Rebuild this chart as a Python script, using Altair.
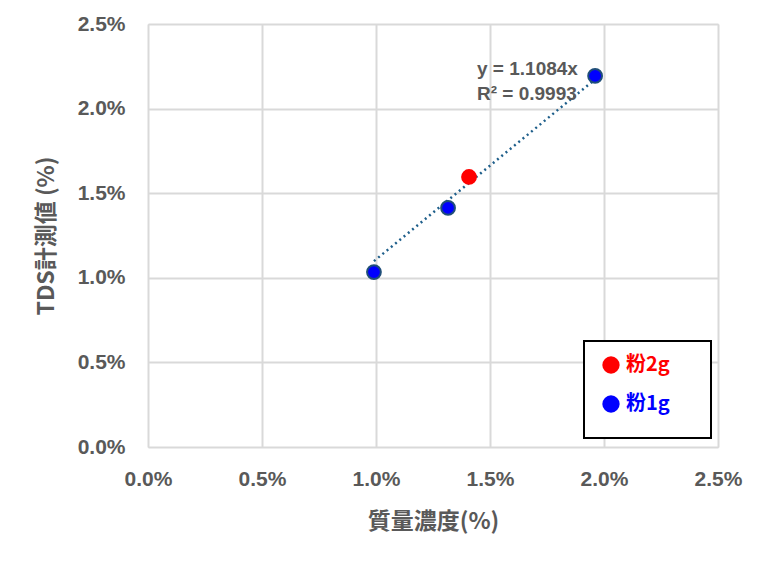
import altair as alt
import pandas as pd

# data (fractions)
blue_x = [0.00991, 0.01316, 0.01961]
blue_y = [0.01034, 0.01413, 0.02193]
red_x = [0.01408]
red_y = [0.01596]
series_names = ["粉2g", "粉1g"]
series_colors = ["#ff0000", "#0000ff"]
slope = 1.1084
eq_lines = ["y = 1.1084x", "R² = 0.9993"]

W, H = 570, 423
GREY = "#595959"
FONT = "Liberation Sans"
CJK = "Noto Sans CJK JP"

pts = pd.DataFrame({
    "x": red_x + blue_x,
    "y": red_y + blue_y,
    "s": [series_names[0]] * len(red_x) + [series_names[1]] * len(blue_x),
})
xmin, xmax = min(red_x + blue_x), max(red_x + blue_x)
trend = pd.DataFrame({"x": [xmin, xmax], "y": [slope * xmin, slope * xmax]})
eq = pd.DataFrame({"x": [0.01443, 0.01443], "y": [0.02234, 0.02086], "t": eq_lines})

xs = alt.Scale(domain=[0, 0.025], nice=False)
ys = alt.Scale(domain=[0, 0.025], nice=False)

xax = alt.Axis(format=".1%", values=[0, 0.005, 0.01, 0.015, 0.02, 0.025], title="質量濃度(%)",
               grid=True, gridColor="#d9d9d9", gridWidth=2, ticks=False, domain=False,
               labelFont=FONT, labelFontSize=21, labelFontWeight="bold", labelColor=GREY,
               labelPadding=21, titleFont=CJK, titleFontSize=23, titleFontWeight="bold",
               titleColor=GREY, titlePadding=21, labelFlush=False)
yax = alt.Axis(format=".1%", values=[0, 0.005, 0.01, 0.015, 0.02, 0.025], title="TDS計測値 (%)",
               grid=True, gridColor="#d9d9d9", gridWidth=2, ticks=False, domain=False,
               labelFont=FONT, labelFontSize=21, labelFontWeight="bold", labelColor=GREY,
               labelPadding=23, titleFont=CJK, titleFontSize=23, titleFontWeight="bold",
               titleColor=GREY, titlePadding=19, labelFlush=False)

base_pts = alt.Chart(pts).mark_point(filled=True, size=190, opacity=1).encode(
    x=alt.X("x:Q", scale=xs, axis=xax),
    y=alt.Y("y:Q", scale=ys, axis=yax),
    color=alt.Color("s:N", scale=alt.Scale(domain=series_names, range=series_colors), legend=None),
    stroke=alt.Stroke("s:N", scale=alt.Scale(domain=series_names, range=["#ff0000", "#1f4e79"]), legend=None),
)

line = alt.Chart(trend).mark_line(color="#1f5f8b", strokeWidth=2.5, strokeDash=[2, 3.5]).encode(
    x=alt.X("x:Q", scale=xs), y=alt.Y("y:Q", scale=ys))

eqt = alt.Chart(eq).mark_text(align="left", baseline="middle", font=FONT, fontSize=19,
                              fontWeight="bold", color=GREY).encode(
    x=alt.X("x:Q", scale=xs), y=alt.Y("y:Q", scale=ys), text="t:N")

box = alt.Chart(pd.DataFrame({"a": [0]})).mark_rect(fill="white", stroke="black", strokeWidth=2).encode(
    x=alt.value(436), x2=alt.value(563), y=alt.value(317), y2=alt.value(414))

leg_layers = []
for i, (nm, c) in enumerate(zip(series_names, series_colors)):
    yy = 341 + i * 39
    d = pd.DataFrame({"t": [nm]})
    leg_layers.append(alt.Chart(d).mark_point(filled=True, size=300, opacity=1, color=c).encode(
        x=alt.value(611 - 148), y=alt.value(yy)))
    leg_layers.append(alt.Chart(d).mark_text(align="left", baseline="middle", font=CJK, fontSize=20,
                                             fontWeight="bold", color=c).encode(
        x=alt.value(626 - 148), y=alt.value(yy), text="t:N"))

chart = alt.layer(line, base_pts, eqt, box, *leg_layers).properties(
    width=W, height=H,
    autosize=alt.AutoSizeParams(type="none"),
    padding={"left": 140, "top": 16, "right": 40, "bottom": 100},
).configure_view(stroke="black", strokeWidth=1.5).configure(background="white")

chart.save("out.html", embed_options={"renderer": "svg", "actions": False})
